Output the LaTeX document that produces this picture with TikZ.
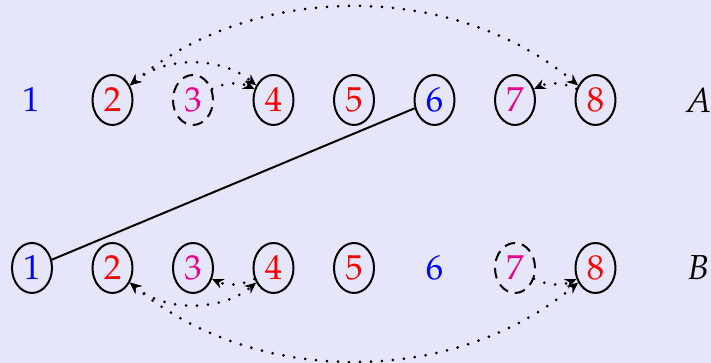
\documentclass[tikz,border=0pt]{standalone}
\usepackage[T1]{fontenc}
\usepackage{mathpazo}
\usetikzlibrary{shapes.geometric,arrows.meta}
\definecolor{bgc}{RGB}{230,230,250}
\definecolor{redc}{RGB}{255,0,0}
\definecolor{bluec}{RGB}{0,0,255}
\definecolor{magc}{RGB}{235,0,140}
\tikzset{
  el/.style={ellipse,draw,line width=0.6pt,minimum width=12pt,minimum height=15pt,inner sep=0pt},
  dashel/.style={el,dash pattern=on 3.2pt off 2.1pt},
  plain/.style={inner sep=0pt},
  dots/.style={line width=0.9pt,dash pattern=on 0pt off 3.3pt,line cap=round},
  tip/.style={dots,-{Stealth[length=3.4pt,width=3pt]}},
  tips/.style={dots,{Stealth[length=3.4pt,width=3pt]}-{Stealth[length=3.4pt,width=3pt]}}
}
\begin{document}
\begin{tikzpicture}[x=0.3pt,y=0.3pt,font=\fontsize{10.4}{12}\selectfont]
\useasboundingbox (0,0) rectangle (711,363);
\path[fill=bgc] (0,0) rectangle (711,363);
% row A (y = 263)
\node[plain,text=bluec] (A1) at (31,263) {1};
\node[el,text=redc] (A2) at (112.5,263) {2};
\node[dashel,text=magc] (A3) at (193,263) {3};
\node[el,text=redc] (A4) at (273.5,263) {4};
\node[el,text=redc] (A5) at (354,263) {5};
\node[el,text=bluec] (A6) at (434.5,263) {6};
\node[el,text=magc] (A7) at (515,263) {7};
\node[el,text=redc] (A8) at (595.5,263) {8};
\node[plain] (LA) at (698,263) {$A$};
% row B (y = 95)
\node[el,text=bluec] (B1) at (32,95) {1};
\node[el,text=redc] (B2) at (112.5,95) {2};
\node[el,text=magc] (B3) at (193,95) {3};
\node[el,text=redc] (B4) at (273.5,95) {4};
\node[el,text=redc] (B5) at (354,95) {5};
\node[plain,text=bluec] (B6) at (434.5,95) {6};
\node[dashel,text=magc] (B7) at (515,95) {7};
\node[el,text=redc] (B8) at (595.5,95) {8};
\node[plain] (LB) at (698,95) {$B$};
% solid connector
\draw[line width=0.6pt] (B1) -- (A6);
% top arrows
\draw[tips] (A2) to[out=40,in=140,looseness=0.93] (A8);
\draw[tips] (A2) to[out=40,in=140,looseness=0.93] (A4);
\draw[tip] (A3.30) to[bend left=25] (A4.150);
\draw[tip] (A8.150) to[bend right=25] (A7.30);
% bottom arrows
\draw[tips] (B2) to[out=-40,in=-140,looseness=0.93] (B8);
\draw[tips] (B2) to[out=-40,in=-140,looseness=0.93] (B4);
\draw[tip] (B4.210) to[bend left=25] (B3.-30);
\draw[tip] (B7.-30) to[bend right=25] (B8.210);
\end{tikzpicture}
\end{document}
